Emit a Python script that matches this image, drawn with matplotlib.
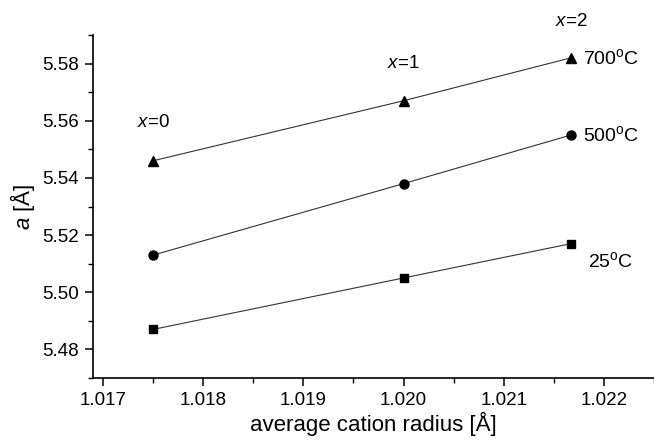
import matplotlib
matplotlib.use("Agg")
import matplotlib.pyplot as plt
from matplotlib.ticker import MultipleLocator, FormatStrFormatter

plt.rcParams['font.family'] = ['Liberation Sans', 'DejaVu Sans']
plt.rcParams['mathtext.fontset'] = 'custom'
plt.rcParams['mathtext.rm'] = 'Liberation Sans'
plt.rcParams['mathtext.it'] = 'Liberation Sans:italic'

radius = [1.0175, 1.0200, 1.02167]
a_700 = [5.546, 5.567, 5.582]
a_500 = [5.513, 5.538, 5.555]
a_25 = [5.487, 5.505, 5.517]
comp_labels = ["0", "1", "2"]
temp_labels = ["700$^\\mathregular{o}$C", "500$^\\mathregular{o}$C", "25$^\\mathregular{o}$C"]

fig = plt.figure(figsize=(6.54, 4.42), dpi=100)
ax = fig.add_axes([0.1422, 0.1448, 0.8578, 0.776])

for vals, m, ms in [(a_700, '^', 7), (a_500, 'o', 6.5), (a_25, 's', 6)]:
    ax.plot(radius, vals, color='#333333', lw=0.8, marker=m, markersize=ms,
            markerfacecolor='black', markeredgecolor='black', clip_on=False)

ax.set_xlim(1.0169, 1.0225)
ax.set_ylim(5.47, 5.59)
ax.xaxis.set_major_locator(MultipleLocator(0.001))
ax.xaxis.set_minor_locator(MultipleLocator(0.0005))
ax.yaxis.set_major_locator(MultipleLocator(0.02))
ax.yaxis.set_minor_locator(MultipleLocator(0.01))
ax.xaxis.set_major_formatter(FormatStrFormatter('%.3f'))
ax.yaxis.set_major_formatter(FormatStrFormatter('%.2f'))
for s in ['top', 'right']:
    ax.spines[s].set_visible(False)
for s in ['left', 'bottom']:
    ax.spines[s].set_linewidth(1.2)
ax.tick_params(which='major', direction='out', length=6, width=1.1, labelsize=13.5, pad=4)
ax.tick_params(which='minor', direction='out', length=3.5, width=1.0)

ax.set_xlabel("average cation radius [Å]", fontsize=16, labelpad=2)
ax.set_ylabel("$\\mathit{a}$ [Å]", fontsize=16, labelpad=4)

# composition labels
comp_y = [5.5595, 5.5802, 5.5946]
for xv, yv, lab in zip(radius, comp_y, comp_labels):
    ax.text(xv, yv, "$\\mathit{x}$=" + lab, ha='center', va='center', fontsize=13.5, clip_on=False)

# temperature labels
temp_pos = [(radius[2] + 0.00012, a_700[2]), (radius[2] + 0.00012, a_500[2]), (radius[2] + 0.00017, a_25[2] - 0.006)]
for (xv, yv), lab in zip(temp_pos, temp_labels):
    ax.text(xv, yv, lab, ha='left', va='center', fontsize=14, clip_on=False)

fig.savefig("out.png", dpi=100)
